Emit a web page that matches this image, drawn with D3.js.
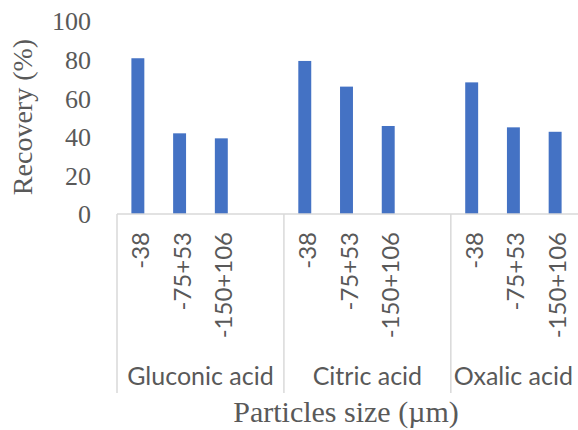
<!doctype html>
<html>
<head>
<meta charset="utf-8"/>
<style>
body{margin:0;background:#fff;}
</style>
<script src="https://d3js.org/d3.v7.min.js"></script>
</head>
<body>
<script type="text/javascript">
// data
var groups = ["Gluconic acid", "Citric acid", "Oxalic acid"];
var sizes = ["-38", "-75+53", "-150+106"];
var gluconic = [80.7, 41.8, 39.2];
var citric = [79.3, 66.0, 45.6];
var oxalic = [68.2, 44.9, 42.6];
var yTicks = [0, 20, 40, 60, 80, 100];

var values = [gluconic, citric, oxalic];

var W = 578, H = 430;
var left = 117, right = 576, base = 214, top0 = 21;
var grey = "#595959";

var svg = d3.select("body").append("svg")
    .attr("width", W)
    .attr("height", H);

// slots: each group has its sizes + one empty slot (except the last)
var slots = [];
var bars = [];
groups.forEach(function(g, gi){
    sizes.forEach(function(s, si){
        slots.push(g + "|" + s);
        bars.push({key: g + "|" + s, group: g, size: s, value: values[gi][si]});
    });
    if (gi < groups.length - 1) slots.push(g + "|blank");
});

var x = d3.scaleBand()
    .domain(slots)
    .range([left, right])
    .paddingInner(0.69)
    .paddingOuter(0.345);

var y = d3.scaleLinear()
    .domain([0, 100])
    .range([base, top0]);

// y axis (labels only)
var yAxis = svg.append("g")
    .attr("transform", "translate(" + (left - 26) + ",0)")
    .call(d3.axisLeft(y).tickValues(yTicks).tickSize(0).tickPadding(0));
yAxis.select(".domain").remove();
yAxis.selectAll("text")
    .attr("font-family", "Liberation Serif")
    .attr("font-size", 26)
    .attr("fill", grey)
    .attr("dy", "0.34em");

// bars
svg.selectAll("rect.bar")
    .data(bars)
    .enter()
    .append("rect")
    .attr("class", "bar")
    .attr("x", function(d){ return x(d.key); })
    .attr("y", function(d){ return y(d.value); })
    .attr("width", x.bandwidth())
    .attr("height", function(d){ return y(0) - y(d.value); })
    .attr("fill", "#4472C4");

// baseline
svg.append("line")
    .attr("x1", left).attr("x2", W)
    .attr("y1", base).attr("y2", base)
    .attr("stroke", "#d9d9d9")
    .attr("stroke-width", 1.5);

// group separators
var step = x.step();
var groupStart = groups.map(function(g){ return x(g + "|" + sizes[0]) - (step - x.bandwidth()) / 2; });
var groupEnd = groups.map(function(g, gi){
    return gi < groups.length - 1 ? groupStart[gi + 1] : right;
});

svg.selectAll("line.sep")
    .data(groupStart)
    .enter()
    .append("line")
    .attr("class", "sep")
    .attr("x1", function(d){ return d; })
    .attr("x2", function(d){ return d; })
    .attr("y1", base)
    .attr("y2", 393)
    .attr("stroke", "#d9d9d9")
    .attr("stroke-width", 1.5);

// size labels (rotated)
svg.selectAll("text.size")
    .data(bars)
    .enter()
    .append("text")
    .attr("class", "size")
    .attr("transform", function(d){
        return "translate(" + (x(d.key) + x.bandwidth() / 2 + 11) + ",232) rotate(-90)";
    })
    .attr("text-anchor", "end")
    .attr("font-family", "Lato")
    .attr("font-size", 24)
    .attr("fill", grey)
    .text(function(d){ return d.size; });

// group labels
svg.selectAll("text.group")
    .data(groups)
    .enter()
    .append("text")
    .attr("class", "group")
    .attr("x", function(d, i){ return (groupStart[i] + groupEnd[i]) / 2; })
    .attr("y", 385)
    .attr("text-anchor", "middle")
    .attr("font-family", "Lato")
    .attr("font-size", 25)
    .attr("fill", grey)
    .text(function(d){ return d; });

// axis titles
svg.append("text")
    .attr("transform", "translate(32,117) rotate(-90)")
    .attr("text-anchor", "middle")
    .attr("font-family", "Liberation Serif")
    .attr("font-size", 28)
    .attr("fill", grey)
    .text("Recovery (%)");

svg.append("text")
    .attr("x", 346)
    .attr("y", 422)
    .attr("text-anchor", "middle")
    .attr("font-family", "Liberation Serif")
    .attr("font-size", 30)
    .attr("fill", grey)
    .text("Particles size (µm)");
</script>
</body>
</html>
